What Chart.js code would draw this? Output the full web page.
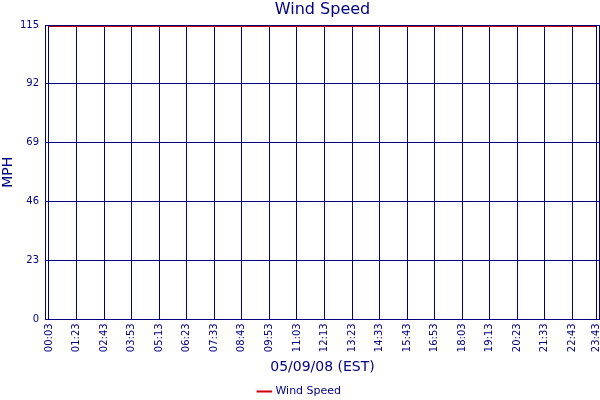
<!DOCTYPE html>
<html>
<head>
<meta charset="utf-8">
<script src="https://cdn.jsdelivr.net/npm/chart.js@4/dist/chart.umd.min.js"></script>
<style>
  html, body { margin: 0; padding: 0; background: #fff; }
  #wrap { width: 600px; height: 400px; }
</style>
</head>
<body>
<div id="wrap"><canvas id="myChart" width="600" height="400"></canvas></div>
<script>
// time labels shown on the x axis, and the sample index each one sits at
const timeLabels = ['00:03', '01:23', '02:43', '03:53', '05:13', '06:23', '07:33', '08:43', '09:53', '11:03',
    '12:13', '13:23', '14:33', '15:43', '16:53', '18:03', '19:13', '20:23', '21:33', '22:43', '23:43'];
const labelIndex = [0, 7, 14, 21, 28, 35, 42, 49, 56, 63, 70, 77, 84, 91, 98, 105, 112, 119, 126, 133, 139];
// wind speed (MPH) read at each labelled sample: flat at the top of the scale
const windSpeed = [114.6, 114.6, 114.6, 114.6, 114.6, 114.6, 114.6, 114.6, 114.6, 114.6,
    114.6, 114.6, 114.6, 114.6, 114.6, 114.6, 114.6, 114.6, 114.6, 114.6, 114.6];
const yTicks = [0, 23, 46, 69, 92, 115];
const chartTitle = 'Wind Speed';

const NAVY = '#000080';
const FONT = 'DejaVu Sans';

// box around the plot area, and the title centred over the plot (not the canvas)
const frame = {
    id: 'frame',
    afterDraw(chart) {
        const a = chart.chartArea;
        const ctx = chart.ctx;
        ctx.save();
        ctx.strokeStyle = NAVY;
        ctx.lineWidth = 1;
        ctx.strokeRect(Math.round(a.left) + 0.5, Math.round(a.top) + 0.5,
            Math.round(a.right - a.left) - 1, Math.round(a.bottom - a.top));
        ctx.fillStyle = NAVY;
        ctx.font = '16px "' + FONT + '"';
        ctx.textAlign = 'center';
        ctx.textBaseline = 'middle';
        ctx.fillText(chartTitle, (a.left + a.right) / 2, 10);
        ctx.restore();
    }
};

const ctx = document.getElementById('myChart').getContext('2d');
new Chart(ctx, {
    type: 'line',
    data: {
        datasets: [{
            label: 'Wind Speed',
            data: windSpeed.map((v, i) => ({ x: labelIndex[i], y: v })),
            borderColor: '#cc0000',
            backgroundColor: '#cc0000',
            borderWidth: 2,
            pointRadius: 0,
            tension: 0
        }]
    },
    options: {
        responsive: false,
        animation: false,
        layout: { padding: { left: 0, right: 0, top: 25, bottom: -7 } },
        plugins: {
            title: { display: false },
            legend: {
                position: 'bottom',
                labels: {
                    color: NAVY,
                    font: { family: FONT, size: 11 },
                    usePointStyle: true,
                    pointStyle: 'line',
                    boxWidth: 14,
                    padding: 2
                }
            },
            tooltip: { enabled: false }
        },
        scales: {
            x: {
                type: 'linear',
                min: -1,
                max: 140,
                afterBuildTicks: (axis) => {
                    axis.ticks = labelIndex.map(v => ({ value: v }));
                },
                afterFit: (axis) => {
                    axis.paddingLeft = 0;
                    axis.paddingRight = 0;
                },
                ticks: {
                    color: NAVY,
                    font: { family: FONT, size: 10 },
                    autoSkip: false,
                    minRotation: 90,
                    maxRotation: 90,
                    padding: 4,
                    callback: (value) => timeLabels[labelIndex.indexOf(value)]
                },
                grid: { color: NAVY, lineWidth: 1, drawTicks: false },
                border: { color: NAVY },
                title: {
                    display: true,
                    text: '05/09/08 (EST)',
                    color: NAVY,
                    font: { family: FONT, size: 14 },
                    padding: { top: 3, bottom: 8 }
                }
            },
            y: {
                min: 0,
                max: 115,
                afterBuildTicks: (axis) => {
                    axis.ticks = yTicks.map(v => ({ value: v }));
                },
                afterFit: (axis) => { axis.width = 45; },
                ticks: {
                    color: NAVY,
                    font: { family: FONT, size: 10 },
                    padding: 6
                },
                grid: { color: NAVY, lineWidth: 1, drawTicks: false },
                border: { color: NAVY },
                title: {
                    display: true,
                    text: 'MPH',
                    color: NAVY,
                    font: { family: FONT, size: 14 },
                    padding: { top: 0, bottom: 0 }
                }
            }
        }
    },
    plugins: [frame]
});
</script>
</body>
</html>
